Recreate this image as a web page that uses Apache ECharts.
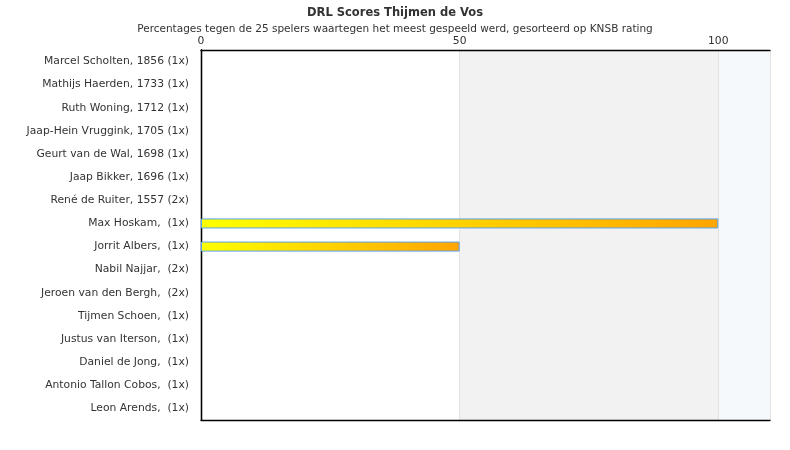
<!DOCTYPE html>
<html><head><meta charset="utf-8">
<script src="https://cdn.jsdelivr.net/npm/echarts@6/dist/echarts.min.js"></script>
<style>html,body{margin:0;padding:0;background:#fff}#c{width:790px;height:450px}</style>
</head><body><div id="c"></div>
<script>
const categories = [
  "Marcel Scholten, 1856 (1x)",
  "Mathijs Haerden, 1733 (1x)",
  "Ruth Woning, 1712 (1x)",
  "Jaap-Hein Vruggink, 1705 (1x)",
  "Geurt van de Wal, 1698 (1x)",
  "Jaap Bikker, 1696 (1x)",
  "René de Ruiter, 1557 (2x)",
  "Max Hoskam,  (1x)",
  "Jorrit Albers,  (1x)",
  "Nabil Najjar,  (2x)",
  "Jeroen van den Bergh,  (2x)",
  "Tijmen Schoen,  (1x)",
  "Justus van Iterson,  (1x)",
  "Daniel de Jong,  (1x)",
  "Antonio Tallon Cobos,  (1x)",
  "Leon Arends,  (1x)"
];
const scores = [0, 0, 0, 0, 0, 0, 0, 100, 50, 0, 0, 0, 0, 0, 0, 0];
const tickValues = [0, 50, 100];
const axisMax = 110;

const FONT = "'DejaVu Sans', sans-serif";
const frameLine = {show: true, lineStyle: {color: '#000', width: 1.3}};
const chart = echarts.init(document.getElementById('c'));
chart.setOption({
  animation: false,
  title: {
    text: 'DRL Scores Thijmen de Vos',
    subtext: 'Percentages tegen de 25 spelers waartegen het meest gespeeld werd, gesorteerd op KNSB rating',
    left: 'center', top: 2, itemGap: 5,
    textStyle: {fontFamily: FONT, fontSize: 11.5, fontWeight: 'bold', color: '#333'},
    subtextStyle: {fontFamily: FONT, fontSize: 10.5, color: '#333'}
  },
  grid: {left: 201, right: 20, top: 50, bottom: 30},
  xAxis: [{
    type: 'value', position: 'top', min: 0, max: axisMax, interval: 50,
    axisLine: frameLine, axisTick: {show: false},
    splitLine: {show: true, lineStyle: {color: '#e2e2e2'}},
    splitArea: {show: true, areaStyle: {color: ['#ffffff', '#f2f2f2', '#f6f9fc']}},
    axisLabel: {fontFamily: FONT, fontSize: 10.75, color: '#333', margin: 3,
      formatter: v => tickValues.includes(v) ? String(v) : ''}
  }, {
    type: 'value', position: 'bottom', min: 0, max: axisMax, interval: 50,
    axisLine: frameLine, axisTick: {show: false}, splitLine: {show: false}, axisLabel: {show: false}
  }],
  yAxis: [{
    type: 'category', data: categories, inverse: true,
    axisLine: frameLine, axisTick: {show: false},
    axisLabel: {fontFamily: FONT, fontSize: 10.75, color: '#333', margin: 12}
  }, {
    type: 'category', data: categories, inverse: true, position: 'right',
    axisLine: frameLine, axisTick: {show: false}, axisLabel: {show: false}
  }],
  series: [{
    type: 'bar', barWidth: 10, z: 3,
    data: scores.map(v => ({value: v, itemStyle: {borderWidth: v > 0 ? 1 : 0, borderColor: '#5aa2ea'}})),
    itemStyle: {
      color: new echarts.graphic.LinearGradient(0, 0, 1, 0, [{offset: 0, color: '#ffff00'}, {offset: 1, color: '#ffa500'}])
    }
  }]
});
</script></body></html>
